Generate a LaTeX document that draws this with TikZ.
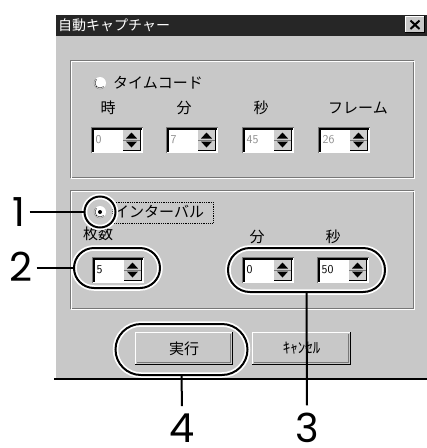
\documentclass[tikz,border=0pt]{standalone}
\usepackage{fontspec}
\setmainfont{Poppins}
\newfontfamily\cjk{Noto Sans CJK JP}
\usetikzlibrary{shapes.misc}
\definecolor{facegray}{RGB}{200,200,200}
\definecolor{tbar}{RGB}{38,38,38}
\definecolor{dkgray}{RGB}{120,120,120}
\definecolor{dimtxt}{RGB}{140,140,140}
\definecolor{btnface}{RGB}{206,206,206}
\newcommand\spinbx[4]{%
  \fill[fill=white] (#1,#2) rectangle ++(52,26);
  \draw[draw=dkgray] (#1+0.5,#2+25.5) -- (#1+0.5,#2+0.5) -- (#1+51.5,#2+0.5);
  \draw[draw=black,line width=1.5pt] (#1+2,#2+24.5) -- (#1+2,#2+2) -- (#1+50.5,#2+2);
  \draw[draw=white] (#1+0.5,#2+25.5) -- (#1+51.5,#2+25.5) -- (#1+51.5,#2+0.5);
  \draw[draw=btnface,line width=17pt] (#1+40.5,#2+3) -- (#1+40.5,#2+23);
  \draw[draw=black] (#1+32,#2+23) -- (#1+49,#2+23) -- (#1+49,#2+3);
  \draw[draw=dkgray] (#1+32,#2+13) -- (#1+49,#2+13);
  \fill[fill=black] (#1+35,#2+11.5) -- (#1+46,#2+11.5) -- (#1+40.5,#2+5.5) -- cycle;
  \fill[fill=black] (#1+35,#2+14.5) -- (#1+46,#2+14.5) -- (#1+40.5,#2+20.5) -- cycle;
  \node[anchor=west,inner sep=0,text=#4,font=\fontsize{12}{12}\selectfont\sffamily] at (#1+4.5,#2+13) {#3};
}
\newcommand\raisedbtn[5]{%
  \draw[draw=facegray,line width={#4-#2}] (#1,{(#2+#4)/2}) -- (#3,{(#2+#4)/2});
  \draw[draw=white,line width=1.2pt] (#1+0.6,#4-1) -- (#1+0.6,#2+0.6) -- (#3-1,#2+0.6);
  \draw[draw=black,line width=1.5pt] (#1,#4-0.75) -- (#3-0.75,#4-0.75) -- (#3-0.75,#2);
  \draw[draw=dkgray] (#1+2,#4-2.5) -- (#3-2.5,#4-2.5) -- (#3-2.5,#2+2);
  \node[font=\cjk\fontsize{15}{15}\selectfont] at ({(#1+#3)/2},{(#2+#4)/2}) {#5};
}
\newcommand\etched[4]{%
  \draw[draw=dkgray] (#1,#2) rectangle (#3,#4);
  \draw[draw=white] (#1+1,#2+1) rectangle (#3+1,#4+1);
}
\tikzset{
  oval/.style={rounded rectangle, draw=black, line width=2pt,
    preaction={draw=white, line width=5.5pt}, inner sep=0pt},
  ring/.style={circle, draw=black, line width=2pt,
    preaction={draw=white, line width=5.5pt}, inner sep=0pt},
  num/.style={font=\fontsize{40}{40}\selectfont, inner xsep=4pt, inner ysep=7pt},
  conn/.style={draw=black, line width=2pt},
  lbl/.style={font=\cjk\fontsize{15}{15}\selectfont, inner sep=0pt},
}
\begin{document}
\begin{tikzpicture}[x=1pt,y=-1pt]
\useasboundingbox (0,0) rectangle (427,448);
% dialog background, drawn as one wide stroke
\draw[draw=facegray,line width=366pt] (54,196) -- (427,196);
\draw[draw=white,line width=1.2pt] (55,378) -- (55,14) -- (427,14);
\draw[draw=black,line width=1.5pt] (54,379) -- (427,379);
\fill[fill=tbar] (56,15) rectangle (427,36);
\node[anchor=west,inner sep=0,text=white,font=\cjk\fontsize{14}{14}\selectfont] at (58,25.5) {自動キャプチャー};
% close button
\draw[draw=facegray,line width=17pt] (405,24.5) -- (425,24.5);
\draw[draw=white] (405.5,33) -- (405.5,16.5) -- (425,16.5);
\draw[draw=black] (405,32.5) -- (424.5,32.5) -- (424.5,16);
\draw[draw=black,line width=2pt] (410.5,20.5) -- (419.5,29) (419.5,20.5) -- (410.5,29);
% group boxes
\etched{70}{60}{413}{177}
\etched{70}{190}{413}{308}
% group 1
\fill[fill=white] (100,83) circle (6);
\draw[draw=dkgray] (100,83) ++(45:6) arc (45:225:6);
\draw[draw=black] (100,83) ++(45:5) arc (45:225:5);
\node[lbl,anchor=west] at (113,83) {タイムコード};
\node[lbl] at (108,108) {時};
\node[lbl] at (184,108) {分};
\node[lbl] at (261,108) {秒};
\node[lbl] at (358,108) {フレーム};
\spinbx{91}{127}{0}{dimtxt}
\spinbx{166}{127}{7}{dimtxt}
\spinbx{242}{127}{45}{dimtxt}
\spinbx{318}{127}{26}{dimtxt}
% group 2
\fill[fill=white] (100,212) circle (6);
\draw[draw=dkgray] (100,212) ++(45:6) arc (45:225:6);
\draw[draw=black] (100,212) ++(45:5) arc (45:225:5);
\fill[fill=black] (100,212) circle (2);
\draw[densely dotted,line width=0.8pt] (112,202) rectangle (213,223);
\node[lbl,anchor=west] at (114,212) {インターバル};
\node[lbl] at (98,234) {枚数};
\node[lbl] at (257,237) {分};
\node[lbl] at (333,237) {秒};
\spinbx{92}{257}{5}{black}
\spinbx{242}{257}{0}{black}
\spinbx{317}{257}{50}{black}
% buttons
\raisedbtn{135}{332}{233}{365}{実行}
\raisedbtn{252}{332}{351}{365}{ｷｬﾝｾﾙ}
% annotations
\node[ring, minimum size=31pt] (o1) at (100,212) {};
\node[oval, minimum width=86pt, minimum height=40pt] (o2) at (117,268) {};
\node[oval, minimum width=157pt, minimum height=44pt] (o3) at (306.5,270) {};
\node[oval, minimum width=132pt, minimum height=51pt] (o4) at (181.5,349.5) {};
\node[num, anchor=base] (n1) at (19,226) {1};
\node[num, anchor=base] (n2) at (21,281) {2};
\node[num, anchor=base] (n3) at (307,442) {3};
\node[num, anchor=base] (n4) at (182,442) {4};
\draw[conn] (n1.east |- o1.west) -- (o1.west);
\draw[conn] (n2.east |- o2.west) -- (o2.west);
\draw[conn] (o3.south) -- (n3.north);
\draw[conn] (o4.south) -- (n4.north);
\end{tikzpicture}
\end{document}
